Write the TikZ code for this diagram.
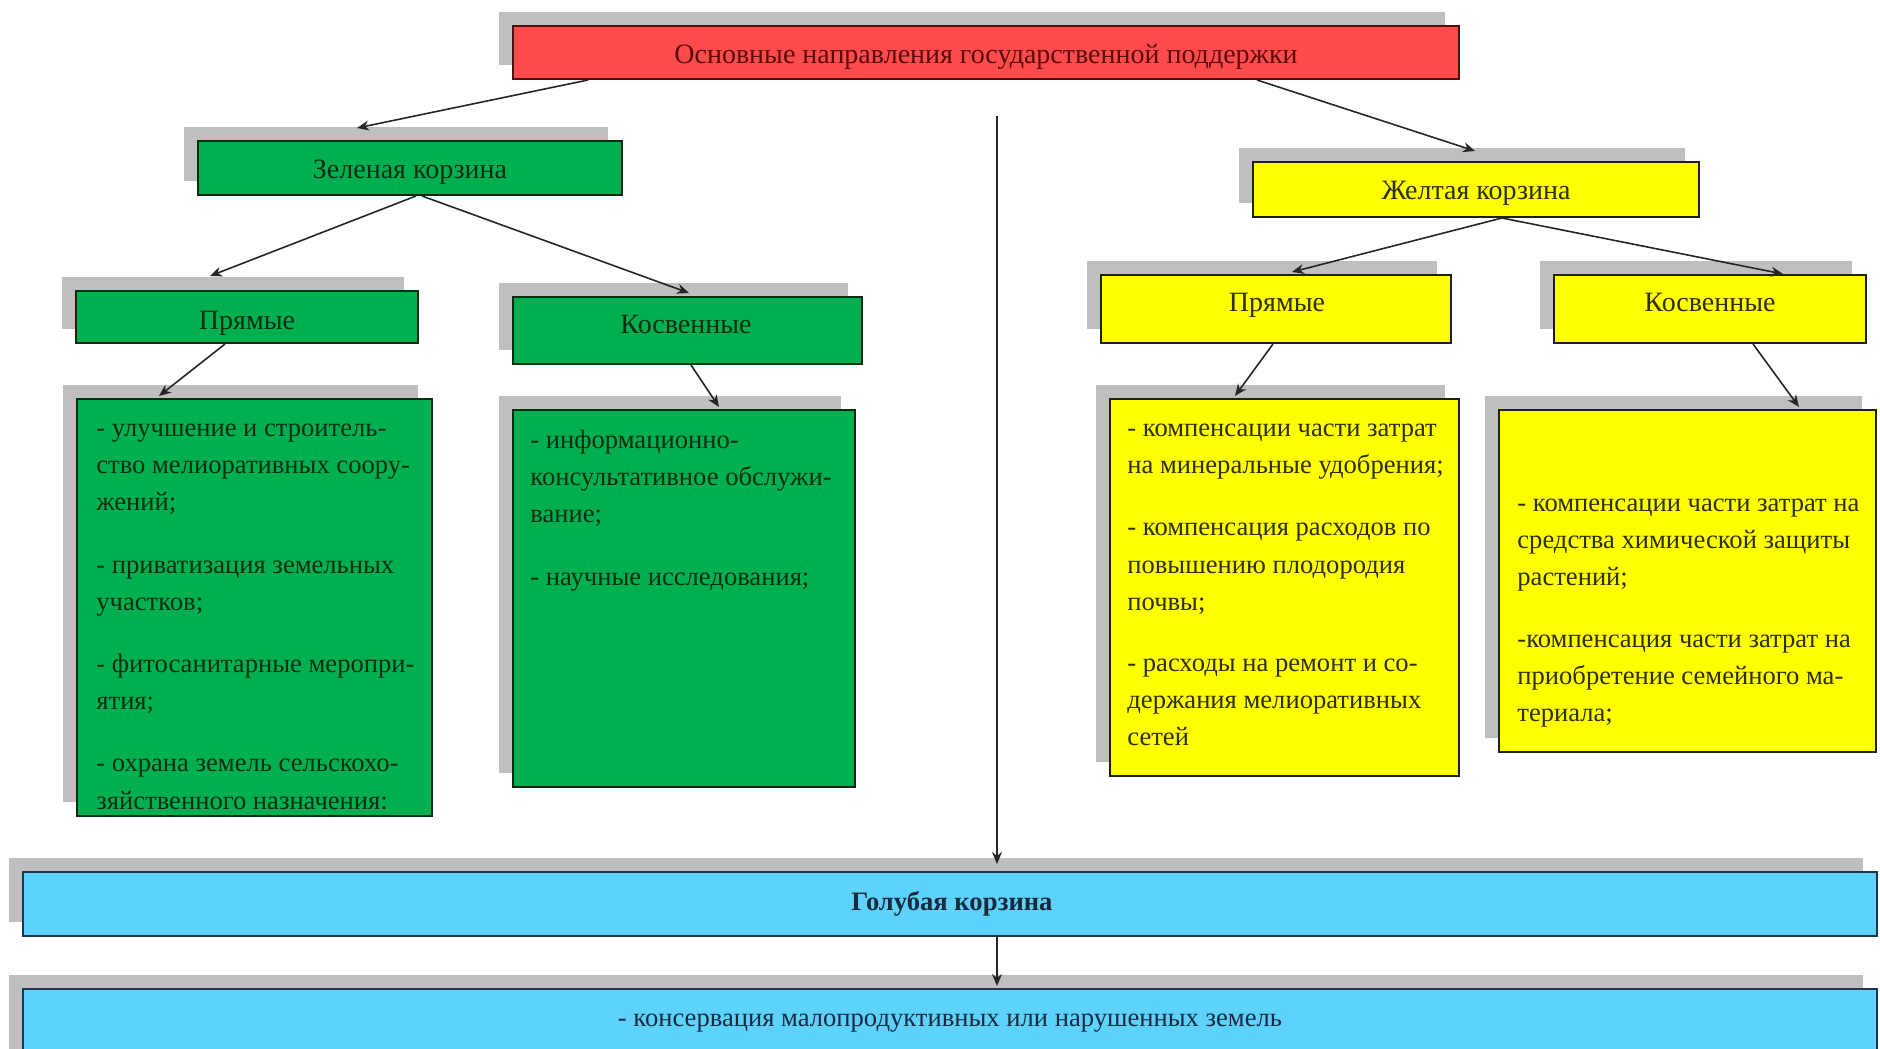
\documentclass[tikz,border=0pt]{standalone}
\usepackage{fontspec}
\setmainfont{Liberation Serif}
\usetikzlibrary{shadows,arrows.meta,calc}
\definecolor{redf}{HTML}{FF4B4B}
\definecolor{redb}{HTML}{4A1212}
\definecolor{redt}{HTML}{5A0A0A}
\definecolor{greenf}{HTML}{00B050}
\definecolor{greenb}{HTML}{0E2A12}
\definecolor{greent}{HTML}{0A2E12}
\definecolor{yellowf}{HTML}{FFFF00}
\definecolor{yellowb}{HTML}{202010}
\definecolor{yellowt}{HTML}{2E2E08}
\definecolor{bluef}{HTML}{5CD2FC}
\definecolor{blueb}{HTML}{1F3550}
\definecolor{bluet}{HTML}{1A2A3D}
\definecolor{shadowgray}{HTML}{BFBFBF}
\begin{document}
\begin{tikzpicture}[x=0.5pt,y=-0.5pt,
  box/.style={draw, line width=1pt, inner sep=0pt,
    general shadow={shadow xshift=-7pt, shadow yshift=7pt, fill=shadowgray}},
  gbox/.style={box, fill=greenf, draw=greenb},
  ybox/.style={box, fill=yellowf, draw=yellowb},
  bbox/.style={box, fill=bluef, draw=blueb},
  htext/.style={inner sep=0pt, font=\fontsize{14}{17}\selectfont},
  ltext/.style={anchor=north west, inner sep=0pt, align=left, font=\fontsize{13.3}{18.6}\selectfont},
  arr/.style={-{Stealth[length=6pt,width=5pt]}, line width=0.8pt, draw=black!85}]
\useasboundingbox (0,0) rectangle (1880,1049);
\clip (0,0) rectangle (1880,1049);
% top
\node[box, fill=redf, draw=redb, minimum width=473pt, minimum height=26.5pt] (red) at (986,52.5) {};
\node[htext, text=redt] (redt) at (986,57) {Основные направления государственной поддержки};
% green branch
\node[gbox, minimum width=212pt, minimum height=27pt] (zel) at (410,168) {};
\node[htext, text=greent] (zelt) at (410,172) {Зеленая корзина};
\node[gbox, minimum width=171pt, minimum height=26pt] (gpr) at (247,317) {};
\node[htext, text=greent] (gprt) at (247,323) {Прямые};
\node[gbox, minimum width=174.5pt, minimum height=33.5pt] (gks) at (687.5,330.5) {};
\node[htext, text=greent] (gkst) at (686,324) {Косвенные};
\node[gbox, minimum width=177.5pt, minimum height=208.5pt] (gl1) at (254.5,607.5) {};
\node[gbox, minimum width=171pt, minimum height=188.5pt] (gl2) at (684,598.5) {};
\node[ltext, text=greent] (gl1t) at (96,416) {\rule{0pt}{10pt}- улучшение и строитель-\\
ство мелиоративных соору-\\
жений;\\[12.5pt]
- приватизация земельных\\
участков;\\[12.5pt]
- фитосанитарные меропри-\\
ятия;\\[12.5pt]
- охрана земель сельскохо-\\
зяйственного назначения:};
\node[ltext, text=greent] (gl2t) at (530,428) {\rule{0pt}{10pt}- информационно-\\
консультативное обслужи-\\
вание;\\[12.5pt]
- научные исследования;};
% yellow branch
\node[ybox, minimum width=223pt, minimum height=27.5pt] (yel) at (1476,189.5) {};
\node[htext, text=yellowt] (yelt) at (1476,193) {Желтая корзина};
\node[ybox, minimum width=175pt, minimum height=34pt] (ypr) at (1276,309) {};
\node[htext, text=yellowt] (yprt) at (1277,305) {Прямые};
\node[ybox, minimum width=156pt, minimum height=34pt] (yks) at (1710,309) {};
\node[htext, text=yellowt] (ykst) at (1710,302) {Косвенные};
\node[ybox, minimum width=174.5pt, minimum height=188.5pt] (yl1) at (1284.5,587.5) {};
\node[ybox, minimum width=188.5pt, minimum height=171pt] (yl2) at (1687.5,581) {};
\node[ltext, text=yellowt] (yl1t) at (1127,416) {\rule{0pt}{10pt}- компенсации части затрат\\
на минеральные удобрения;\\[12.5pt]
- компенсация расходов по\\
повышению плодородия\\
почвы;\\[12pt]
- расходы на ремонт и со-\\
держания мелиоративных\\
сетей};
\node[ltext, text=yellowt] (yl2t) at (1517,491) {\rule{0pt}{10pt}- компенсации части затрат на\\
средства химической защиты\\
растений;\\[12pt]
-компенсация части затрат на\\
приобретение семейного ма-\\
териала;};
% blue
\node[bbox, minimum width=927pt, minimum height=32pt] (bl1) at (950,904) {};
\node[text=bluet, inner sep=0pt, font=\fontsize{13.3}{16}\selectfont\bfseries] (bl1t) at (952,904) {Голубая корзина};
\node[bbox, minimum width=927pt, minimum height=38pt] (bl2) at (950,1027) {};
\node[text=bluet, font=\fontsize{13.3}{16}\selectfont, inner sep=0pt] (bl2t) at (950,1023) {- консервация малопродуктивных или нарушенных земель};
% connectors
\coordinate (vtop) at (997,116);
\draw[arr] ([shift={(-398,0)}]red.south) -- ([shift={(-53,-12)}]zel.north);
\draw[arr] ([shift={(271,0)}]red.south) -- ([shift={(-1,-10)}]yel.north);
\draw[arr] ([shift={(6,0)}]zel.south) -- ([shift={(-37,-14)}]gpr.north);
\draw[arr] ([shift={(12,0)}]zel.south) -- ([shift={(1.5,-3)}]gks.north);
\draw[arr] ([shift={(-22,0)}]gpr.south) -- ([shift={(-95.5,-2)}]gl1.north);
\draw[arr] ([shift={(3.5,0)}]gks.south) -- ([shift={(35,-2)}]gl2.north);
\draw[arr] ([shift={(26,0)}]yel.south) -- ([shift={(16,-2)}]ypr.north);
\draw[arr] ([shift={(26,0)}]yel.south) -- ([shift={(73,0)}]yks.north);
\draw[arr] ([shift={(-3,0)}]ypr.south) -- ([shift={(-49.5,-2)}]yl1.north);
\draw[arr] ([shift={(43,0)}]yks.south) -- ([shift={(111.5,-2)}]yl2.north);
\draw[arr] (vtop) -- ($(vtop |- bl1.north)+(0,-7)$);
\draw[arr] (vtop |- bl1.south) -- ($(vtop |- bl2.north)+(0,-2)$);
\end{tikzpicture}
\end{document}
